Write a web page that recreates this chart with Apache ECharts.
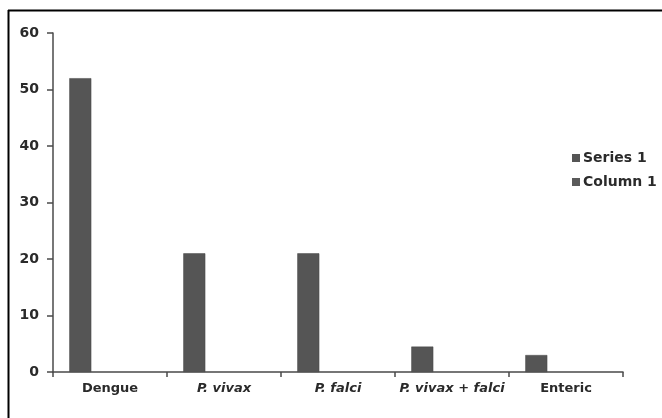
<!DOCTYPE html>
<html><head><meta charset="utf-8">
<script src="https://cdn.jsdelivr.net/npm/echarts@6/dist/echarts.min.js"></script>
<style>html,body{margin:0;padding:0;background:#fff}#c{width:662px;height:418px}</style>
</head><body><div id="c"></div>
<script>
const categories = ['Dengue', 'P. vivax', 'P. falci', 'P. vivax + falci', 'Enteric'];
const italicCats = [false, true, true, true, false];
const series1 = [52, 21, 21, 4.5, 3];
const column1 = [null, null, null, null, null];
const yTicks = [0, 10, 20, 30, 40, 50, 60];

const chart = echarts.init(document.getElementById('c'), null, {renderer: 'canvas'});
const axisColor = '#4a4a4a';
const txt = '#2a2a2a';
const ff = 'DejaVu Sans, Liberation Sans, Arial';
chart.setOption({
  animation: false,
  backgroundColor: '#fff',
  grid: {left: 53, right: 39, top: 33, bottom: 46, containLabel: false},
  legend: {
    orient: 'vertical', left: 567, top: 146, itemWidth: 8, itemHeight: 8, itemGap: 10,
    icon: 'rect',
    itemStyle: {borderWidth: 0},
    textStyle: {fontFamily: ff, fontSize: 14, fontWeight: 'bold', color: txt, padding: [0,0,0,-2]},
    data: [{name: 'Series 1', itemStyle: {color: '#555'}}, {name: 'Column 1', itemStyle: {color: '#5a5a5a'}}]
  },
  xAxis: {
    type: 'category', data: categories, boundaryGap: true,
    axisLine: {lineStyle: {color: axisColor, width: 1.5}},
    axisTick: {show: true, interval: 0, length: 5, inside: false, lineStyle: {color: axisColor, width: 1.5}},
    axisLabel: {
      interval: 0, margin: 10, fontFamily: ff, fontSize: 13, fontWeight: 'bold', color: txt,
      formatter: (v, i) => italicCats[i] ? '{i|' + v + '}' : v,
      rich: {i: {fontStyle: 'italic', fontFamily: ff, fontSize: 13, fontWeight: 'bold', color: txt}}
    }
  },
  yAxis: {
    type: 'value', min: yTicks[0], max: yTicks[yTicks.length-1], interval: yTicks[1]-yTicks[0],
    splitLine: {show: false},
    axisLine: {show: true, lineStyle: {color: axisColor, width: 1.5}},
    axisTick: {show: true, length: 6, lineStyle: {color: axisColor, width: 1.5}},
    axisLabel: {margin: 14, fontFamily: ff, fontSize: 14, fontWeight: 'bold', color: txt}
  },
  series: [
    {name: 'Series 1', type: 'bar', data: series1, barWidth: 22, barGap: '170%',
     itemStyle: {color: '#555555', borderColor: '#444', borderWidth: 0.5}},
    {name: 'Column 1', type: 'bar', data: column1, barWidth: 22,
     itemStyle: {color: '#5a5a5a'}}
  ],
  graphic: [
    {type: 'line', shape: {x1: 8, y1: 10.5, x2: 662, y2: 10.5}, style: {stroke: '#000', lineWidth: 2}},
    {type: 'line', shape: {x1: 8.5, y1: 10, x2: 8.5, y2: 418}, style: {stroke: '#000', lineWidth: 2}}
  ]
});
</script></body></html>
